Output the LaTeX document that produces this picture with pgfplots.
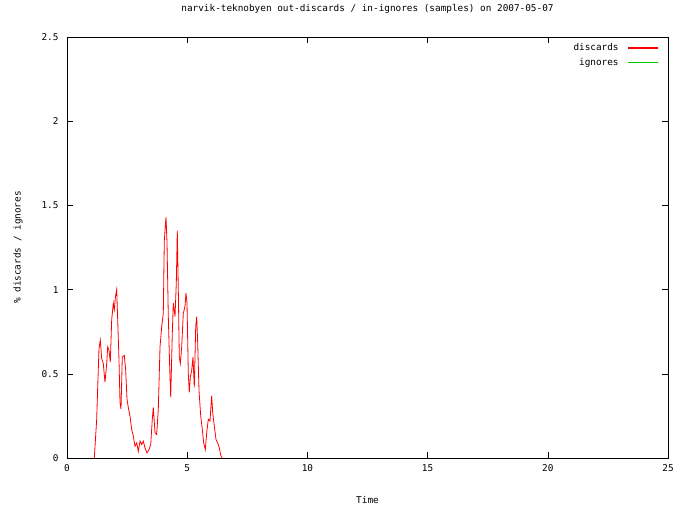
\documentclass[border=0pt]{standalone}
\usepackage{fontspec}
\setmainfont{DejaVu Sans Mono}
\usepackage{pgfplots}
\pgfplotsset{compat=1.18}
\definecolor{gpred}{RGB}{255,0,0}
\definecolor{gpgreen}{RGB}{0,200,0}

\begin{document}
\begin{tikzpicture}
\path[use as bounding box] (-67bp,-53bp) rectangle (613bp,458bp);
\begin{axis}[
  scale only axis,
  width=601bp, height=421bp,
  at={(0,0)}, anchor=south west,
  xmin=0, xmax=25, ymin=0, ymax=2.5,
  xtick={0,5,...,25},
  ytick={0,0.5,...,2.5},
  tick align=inside,
  major tick length=6bp,
  axis line style={black, line width=0.6bp},
  every tick/.style={black, line width=0.6bp},
  font=\fontsize{9.4}{10.5}\selectfont,
  /pgf/number format/assume math mode=true,
  xticklabel style={yshift=-3bp},
  yticklabel style={xshift=-5bp},
  title={narvik-teknobyen out-discards / in-ignores (samples) on 2007-05-07},
  title style={at={(axis description cs:0.5,1)}, anchor=center, yshift=22bp},
  xlabel={Time},
  xlabel style={at={(axis description cs:0.5,0)}, anchor=center, yshift=-42bp},
  ylabel={\% discards / ignores},
  ylabel style={at={(axis description cs:-0.0815,0.5)}, anchor=center, rotate=0},
  legend style={draw=none, fill=none, at={(axis description cs:1,1)}, anchor=north east,
    xshift=-6bp, yshift=-2.5bp, row sep=2bp, column sep=7bp,
    font=\fontsize{9.4}{10.5}\selectfont},
  legend cell align=right,
  legend plot pos=right,
  legend image code/.code={\draw[#1] (0bp,0bp) -- (30bp,0bp);},
]
\addplot[gpred, line width=0.8bp, forget plot] coordinates {
(1.136,0) (1.235,0.23) (1.277,0.42) (1.331,0.65) (1.385,0.70) (1.443,0.59)
(1.51,0.56) (1.58,0.45) (1.651,0.56) (1.693,0.66) (1.747,0.64) (1.801,0.57)
(1.859,0.82) (1.926,0.92) (1.968,0.88) (2.017,0.96) (2.067,1.00) (2.109,0.82)
(2.163,0.58) (2.205,0.33) (2.246,0.29) (2.30,0.60) (2.383,0.61) (2.442,0.52)
(2.496,0.35) (2.55,0.30) (2.62,0.25) (2.691,0.17) (2.758,0.13) (2.829,0.07)
(2.899,0.09) (2.966,0.04) (3.037,0.10) (3.107,0.08) (3.174,0.10) (3.245,0.06)
(3.328,0.03) (3.411,0.05) (3.482,0.08) (3.548,0.23) (3.59,0.30) (3.661,0.15)
(3.731,0.14) (3.798,0.29) (3.869,0.66) (3.94,0.78) (4.006,0.86) (4.047,1.29)
(4.118,1.43) (4.16,1.28) (4.214,0.84) (4.272,0.54) (4.314,0.36) (4.38,0.74)
(4.422,0.92) (4.493,0.84) (4.547,1.04) (4.588,1.35) (4.63,1.00) (4.671,0.60)
(4.713,0.56) (4.771,0.66) (4.838,0.86) (4.908,0.90) (4.95,0.98) (4.992,0.92)
(5.046,0.50) (5.087,0.39) (5.129,0.48) (5.187,0.52) (5.241,0.60) (5.295,0.42)
(5.354,0.78) (5.395,0.84) (5.437,0.68) (5.491,0.40) (5.562,0.25) (5.628,0.17)
(5.686,0.09) (5.753,0.05) (5.811,0.15) (5.878,0.23) (5.948,0.22) (6.019,0.37)
(6.06,0.27) (6.127,0.19) (6.198,0.11) (6.269,0.09) (6.335,0.06) (6.406,0.01)
(6.45,0)
};
\addlegendimage{draw=red, line width=1.2bp}
\addlegendentry{discards}
\addlegendimage{draw=gpgreen, line width=1.2bp}
\addlegendentry{ignores}
\end{axis}
\end{tikzpicture}
\end{document}
